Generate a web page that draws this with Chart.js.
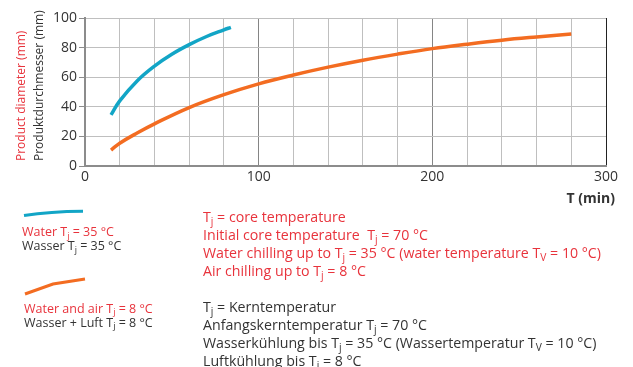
<!DOCTYPE html>
<html>
<head>
<meta charset="utf-8">
<script src="https://cdn.jsdelivr.net/npm/chart.js@4"></script>
<style>
  body { margin: 0; background: #fff; }
</style>
</head>
<body>
<canvas id="chart" width="633" height="367"></canvas>
<script>
// curve readings (time in min, diameter in mm)
const timeWater = [15, 20, 30, 40, 50, 60, 70, 80, 84];
const diamWater = [34.5, 44, 57.5, 67.5, 75.5, 82, 87.5, 92, 93.7];
const timeAir = [15, 20, 30, 40, 60, 80, 100, 120, 140, 160, 180, 200, 220, 240, 260, 280];
const diamAir = [10.8, 15.4, 22.3, 28.5, 39.5, 48.2, 55.5, 61.5, 66.8, 71.5, 75.6, 79.3, 82.3, 85, 87.2, 89.2];

const xLabels = [0, 100, 200, 300];
const legendText = [
  ['Water T_j = 35 °C', 'Wasser T_j = 35 °C'],
  ['Water and air T_j = 8 °C', 'Wasser + Luft T_j = 8 °C']
];
const notesEn = [
  'T_j = core temperature',
  'Initial core temperature  T_j = 70 °C',
  'Water chilling up to T_j = 35 °C (water temperature T_V = 10 °C)',
  'Air chilling up to T_j = 8 °C'
];
const notesDe = [
  'T_j = Kerntemperatur',
  'Anfangskerntemperatur T_j = 70 °C',
  'Wasserkühlung bis T_j = 35 °C (Wassertemperatur T_V = 10 °C)',
  'Luftkühlung bis T_j = 8 °C'
];

const RED = '#e8333c';
const DARK = '#333333';
const BLUE = '#12a5c6';
const ORANGE = '#f36c21';
const FONT = "'Open Sans', sans-serif";

function toPoints(xs, ys) {
  return xs.map((x, i) => ({x: x, y: ys[i]}));
}

// draws text where "_c" means c in subscript
function drawRich(ctx, str, x, y, size, color) {
  ctx.fillStyle = color;
  ctx.textAlign = 'left';
  ctx.textBaseline = 'alphabetic';
  const parts = str.split(/(_\w)/);
  parts.forEach(p => {
    if (!p) return;
    if (p[0] === '_') {
      ctx.font = (size * 0.72) + 'px ' + FONT;
      ctx.fillText(p[1], x, y + size * 0.22);
      x += ctx.measureText(p[1]).width;
    } else {
      ctx.font = size + 'px ' + FONT;
      ctx.fillText(p, x, y);
      x += ctx.measureText(p).width;
    }
  });
}

const extras = {
  id: 'extras',
  afterDraw(chart) {
    const ctx = chart.ctx;
    ctx.save();

    // rotated axis titles
    ctx.font = '12px ' + FONT;
    ctx.textAlign = 'left';
    ctx.textBaseline = 'middle';
    ctx.save();
    ctx.translate(22, 161);
    ctx.rotate(-Math.PI / 2);
    ctx.fillStyle = RED;
    ctx.fillText('Product diameter (mm)', 0, 0);
    ctx.restore();
    ctx.save();
    ctx.translate(40, 161);
    ctx.rotate(-Math.PI / 2);
    ctx.fillStyle = DARK;
    ctx.fillText('Produktdurchmesser (mm)', 0, 0);
    ctx.restore();

    // x axis title
    ctx.font = 'bold 14px ' + FONT;
    ctx.fillStyle = DARK;
    ctx.textAlign = 'right';
    ctx.textBaseline = 'alphabetic';
    ctx.fillText('T (min)', 615, 203);

    // legend samples
    ctx.lineWidth = 3;
    ctx.lineCap = 'butt';
    ctx.strokeStyle = BLUE;
    ctx.beginPath();
    ctx.moveTo(24, 215.5);
    ctx.quadraticCurveTo(50, 211.5, 83, 211.3);
    ctx.stroke();
    ctx.strokeStyle = ORANGE;
    ctx.beginPath();
    ctx.moveTo(25, 294);
    ctx.lineTo(53, 284);
    ctx.lineTo(85, 279);
    ctx.stroke();

    drawRich(ctx, legendText[0][0], 22, 236, 12.5, RED);
    drawRich(ctx, legendText[0][1], 22, 250, 12.5, DARK);
    drawRich(ctx, legendText[1][0], 24, 312.5, 12.5, RED);
    drawRich(ctx, legendText[1][1], 24, 326.5, 12.5, DARK);

    notesEn.forEach((t, i) => drawRich(ctx, t, 203, 221.5 + i * 18, 14.2, RED));
    notesDe.forEach((t, i) => drawRich(ctx, t, 203, 311.5 + i * 18, 14.2, DARK));

    ctx.restore();
  }
};

new Chart(document.getElementById('chart'), {
  type: 'line',
  data: {
    datasets: [{
      label: 'Water',
      data: toPoints(timeWater, diamWater),
      borderColor: BLUE,
      borderWidth: 3.5,
      pointRadius: 0,
      tension: 0.4,
      fill: false
    }, {
      label: 'Water and air',
      data: toPoints(timeAir, diamAir),
      borderColor: ORANGE,
      borderWidth: 3.5,
      pointRadius: 0,
      tension: 0.4,
      fill: false
    }]
  },
  options: {
    responsive: false,
    animation: false,
    layout: { padding: { left: 0, right: 27, top: 18, bottom: 171 } },
    plugins: { legend: { display: false }, tooltip: { enabled: false } },
    scales: {
      x: {
        type: 'linear',
        min: 0,
        max: 300,
        afterFit: s => { s.height = 30; },
        ticks: {
          stepSize: 20,
          autoSkip: false,
          maxRotation: 0,
          padding: 3,
          color: DARK,
          font: { family: FONT, size: 14 },
          callback: v => xLabels.includes(v) ? String(v) : ''
        },
        grid: {
          drawTicks: false,
          color: c => {
            const v = c.tick.value;
            if (v === 300) return '#222';
            if (v === 100 || v === 200) return '#858585';
            return '#bfbfbf';
          }
        },
        border: { color: '#8c8c8c', width: 2 }
      },
      y: {
        min: 0,
        max: 100,
        afterFit: s => { s.width = 85; },
        ticks: {
          stepSize: 20,
          padding: 2,
          color: DARK,
          font: { family: FONT, size: 14 }
        },
        grid: { color: '#bfbfbf', tickLength: 6, tickColor: '#8c8c8c' },
        border: { color: '#8c8c8c', width: 2 }
      }
    }
  },
  plugins: [extras]
});
</script>
</body>
</html>
